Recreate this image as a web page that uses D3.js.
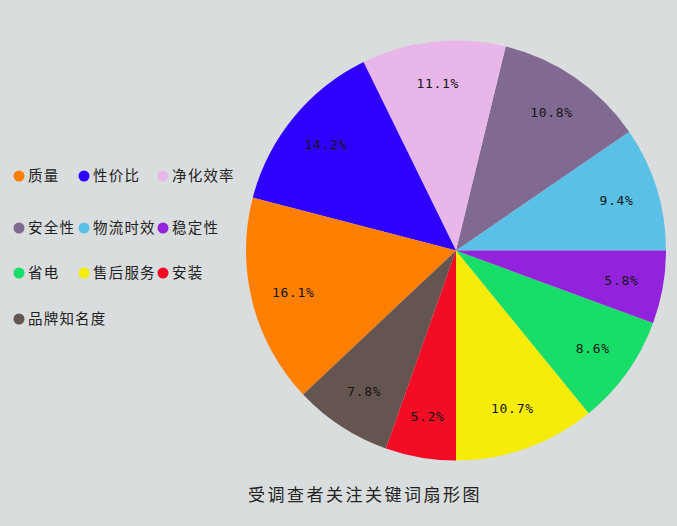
<!DOCTYPE html>
<html>
<head>
<meta charset="utf-8">
<script src="https://cdn.jsdelivr.net/npm/d3@7"></script>
<style>
  html, body { margin: 0; padding: 0; background: #dadddd; }
  svg { display: block; }
</style>
</head>
<body>
<div id="chart"></div>
<script>
// legend order
const legendNames = ["质量", "性价比", "净化效率", "安全性", "物流时效", "稳定性", "省电", "售后服务", "安装", "品牌知名度"]
const legendColors = ["#ff7f00", "#2f00ff", "#e8b6e8", "#806a91", "#5ac0e6", "#9222db", "#18dd68", "#f5ec0a", "#f20c24", "#655550"]

// pie order, counterclockwise from 3 o'clock
const sliceNames = ["物流时效", "安全性", "净化效率", "性价比", "质量", "品牌知名度", "安装", "售后服务", "省电", "稳定性"]
// wedge sizes as drawn in the picture (percent)
const sliceValues = [9.57, 11.63, 11.06, 13.69, 16.08, 7.56, 5.42, 10.89, 8.5, 5.61]
// percentages printed on the wedges
const sliceLabels = ["9.4%", "10.8%", "11.1%", "14.2%", "16.1%", "7.8%", "5.2%", "10.7%", "8.6%", "5.8%"]

const title = "受调查者关注关键词扇形图"

const width = 677, height = 526
const cx = 456, cy = 250.5, radius = 210

const svg = d3.select("#chart").append("svg")
    .attr("width", width)
    .attr("height", height)

svg.append("rect")
    .attr("width", width)
    .attr("height", height)
    .attr("fill", "#dadddd")

const color = d3.scaleOrdinal()
    .domain(legendNames)
    .range(legendColors)

const data = sliceNames.map((n, i) => ({name: n, value: sliceValues[i], label: sliceLabels[i]}))

const pie = d3.pie()
    .sort(null)
    .value(d => d.value)
    .startAngle(Math.PI / 2)
    .endAngle(Math.PI / 2 - 2 * Math.PI)

const arc = d3.arc().innerRadius(0).outerRadius(radius)
const labelArc = d3.arc().innerRadius(radius * 0.8).outerRadius(radius * 0.8)

const g = svg.append("g")
    .attr("transform", `translate(${cx},${cy})`)

const arcs = pie(data)

g.selectAll(".slice")
    .data(arcs)
    .enter()
    .append("path")
    .attr("class", "slice")
    .attr("d", arc)
    .attr("fill", d => color(d.data.name))

g.selectAll(".pct")
    .data(arcs)
    .enter()
    .append("text")
    .attr("class", "pct")
    .attr("transform", d => `translate(${labelArc.centroid(d)})`)
    .attr("text-anchor", "middle")
    .attr("dy", "0.35em")
    .attr("font-family", "DejaVu Sans Mono, monospace")
    .attr("font-size", 13)
    .attr("letter-spacing", 0.7)
    .attr("fill", "#151515")
    .text(d => d.data.label)

// legend, 3 per row
const colX = [19, 84, 163]
const rowY = [176, 228, 273, 319]

const legend = svg.selectAll(".legend")
    .data(legendNames)
    .enter()
    .append("g")
    .attr("class", "legend")
    .attr("transform", (d, i) => `translate(${colX[i % 3]},${rowY[Math.floor(i / 3)]})`)

legend.append("circle")
    .attr("r", 5.5)
    .attr("fill", d => color(d))

legend.append("text")
    .attr("x", 9)
    .attr("dy", "0.36em")
    .attr("font-family", "Noto Sans CJK SC, sans-serif")
    .attr("font-size", 14.5)
    .attr("letter-spacing", 1.2)
    .attr("fill", "#222")
    .text(d => d)

svg.append("text")
    .attr("x", 365)
    .attr("y", 495)
    .attr("dy", "0.36em")
    .attr("text-anchor", "middle")
    .attr("font-family", "Noto Sans CJK SC, sans-serif")
    .attr("font-size", 17)
    .attr("letter-spacing", 2.5)
    .attr("fill", "#222")
    .text(title)
</script>
</body>
</html>
